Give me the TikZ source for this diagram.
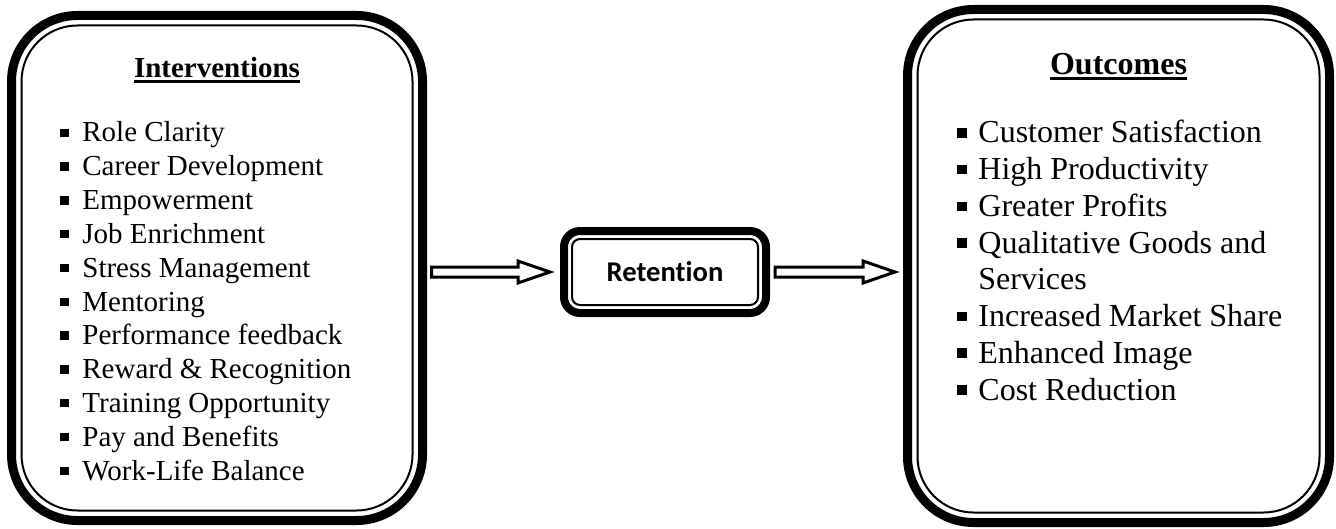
\documentclass[tikz,border=0pt]{standalone}
\usepackage{fontspec}
\setmainfont{Liberation Serif}
\newfontfamily\calibfont[Ligatures=NoCommon]{Carlito}
\usetikzlibrary{calc}
\newcommand\bitem[2]{\makebox[#1][l]{\raisebox{0.17em}{\rule{0.29em}{0.29em}}}#2}
\newcommand\ulbold[1]{\setbox0\hbox{#1}\rlap{\rule[-2.3pt]{\wd0}{1.2pt}}\box0}
\begin{document}
\begin{tikzpicture}[x=0.5pt,y=-0.5pt,
  outerbox/.style={draw, line width=4.5pt, rounded corners=33pt, outer sep=0pt, inner sep=0pt},
  innerline/.style={line width=1pt, rounded corners=28pt},
  midbox/.style={draw, line width=4pt, rounded corners=8pt, outer sep=0pt, inner sep=0pt},
  midinner/.style={line width=1pt, rounded corners=4pt},
  blockarrow/.style={draw, fill=white, line width=1.5pt, line join=miter},
  ltxt/.style={anchor=base west, inner sep=0pt, font=\fontsize{14.5}{16.7}\selectfont},
  rtxt/.style={anchor=base west, inner sep=0pt, font=\fontsize{16}{18.4}\selectfont},
]
\useasboundingbox (0,0) rectangle (1336,529);
% boxes
\node[outerbox, minimum width=205.5pt, minimum height=252.5pt] (L) at (217,268) {};
\draw[innerline] ($(L.north west)+(10,10)$) rectangle ($(L.south east)+(-10,-10)$);
\node[outerbox, minimum width=211pt, minimum height=256.5pt] (R) at (1118.5,266) {};
\draw[innerline] ($(R.north west)+(10,10)$) rectangle ($(R.south east)+(-10,-10)$);
\node[midbox, minimum width=101pt, minimum height=41pt, font=\calibfont\bfseries\fontsize{14.3}{17}\selectfont] (M) at (665,272) {Retention};
\draw[midinner] ($(M.north west)+(8,8)$) rectangle ($(M.south east)+(-8,-8)$);
% arrows
\coordinate (a1s) at ($(L.east |- M.west)+(9,0)$);
\coordinate (a1e) at ($(M.west)+(-14,0)$);
\draw[blockarrow] ($(a1s)+(0,-5)$) -- ($(a1e)+(-32,-5)$) -- ($(a1e)+(-32,-11)$) -- (a1e)
  -- ($(a1e)+(-32,11)$) -- ($(a1e)+(-32,5)$) -- ($(a1s)+(0,5)$) -- cycle;
\coordinate (a2s) at ($(M.east)+(9,0)$);
\coordinate (a2e) at ($(R.west |- M.east)+(-12.5,0)$);
\draw[blockarrow] ($(a2s)+(0,-5)$) -- ($(a2e)+(-32,-5)$) -- ($(a2e)+(-32,-11)$) -- (a2e)
  -- ($(a2e)+(-32,11)$) -- ($(a2e)+(-32,5)$) -- ($(a2s)+(0,5)$) -- cycle;
% titles
\node[anchor=base, inner sep=0pt, font=\fontsize{14.5}{16.7}\selectfont\bfseries] (t1) at (217,78) {\ulbold{Interventions}};
\node[anchor=base, inner sep=0pt, font=\fontsize{16}{18.4}\selectfont\bfseries] (t2) at (1118.5,75) {\ulbold{Outcomes}};
% left items
\foreach \t [count=\i from 0] in {Role Clarity, Career Development, Empowerment, Job Enrichment, Stress Management, Mentoring, Performance feedback, Reward \& Recognition, Training Opportunity, Pay and Benefits, Work-Life Balance}
  \node[ltxt] (li\i) at (60,142+33.8*\i) {\bitem{11pt}{\t}};
% right items
\node[rtxt] (r0) at (957,143) {\bitem{10.5pt}{Customer Satisfaction}};
\node[rtxt] (r1) at (957,179.7) {\bitem{10.5pt}{High Productivity}};
\node[rtxt] (r2) at (957,216.4) {\bitem{10.5pt}{Greater Profits}};
\node[rtxt] (r3) at (957,253.1) {\bitem{10.5pt}{Qualitative Goods and}};
\node[rtxt] (r3b) at (978,289.8) {Services};
\node[rtxt] (r4) at (957,326.5) {\bitem{10.5pt}{Increased Market Share}};
\node[rtxt] (r5) at (957,363.2) {\bitem{10.5pt}{Enhanced Image}};
\node[rtxt] (r6) at (957,400) {\bitem{10.5pt}{Cost Reduction}};
\end{tikzpicture}
\end{document}
